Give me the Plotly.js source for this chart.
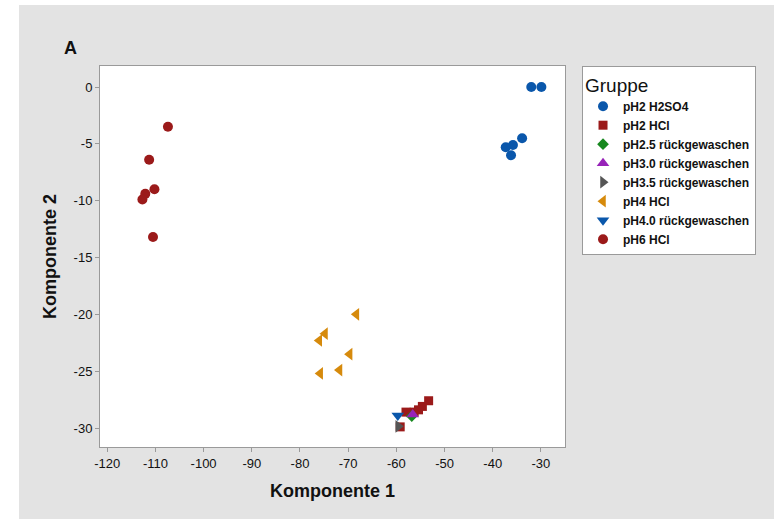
<!DOCTYPE html>
<html>
<head>
<meta charset="utf-8">
<script src="https://cdn.plot.ly/plotly-3.0.1.min.js"></script>
<style>
  html, body { margin: 0; padding: 0; background: #ffffff; }
  #chart { position: absolute; left: 19px; top: 5px; width: 755px; height: 514px; }
</style>
</head>
<body>
<div id="chart"></div>
<script>
// Score plot: first two principal components per sample group
const groupNames = [
  "pH2 H2SO4", "pH2 HCl", "pH2.5 rückgewaschen", "pH3.0 rückgewaschen",
  "pH3.5 rückgewaschen", "pH4 HCl", "pH4.0 rückgewaschen", "pH6 HCl"
];

const h2so4_pH2_x = [-32.0, -29.9, -33.9, -35.8, -37.3, -36.2];
const h2so4_pH2_y = [0.0, 0.0, -4.5, -5.1, -5.3, -6.0];

const hcl_pH2_x = [-53.3, -54.6, -55.4, -56.3, -58.0, -59.2];
const hcl_pH2_y = [-27.6, -28.1, -28.4, -28.6, -28.6, -29.9];

const rw_pH25_x = [-56.8];
const rw_pH25_y = [-28.95];

const rw_pH30_x = [-56.6];
const rw_pH30_y = [-28.8];

const rw_pH35_x = [-59.6];
const rw_pH35_y = [-29.85];

const hcl_pH4_x = [-68.3, -74.8, -76.0, -69.7, -71.8, -75.8];
const hcl_pH4_y = [-20.0, -21.7, -22.3, -23.5, -24.9, -25.2];

const rw_pH40_x = [-59.7];
const rw_pH40_y = [-28.9];

const hcl_pH6_x = [-107.4, -111.3, -110.2, -112.1, -112.7, -110.5];
const hcl_pH6_y = [-3.5, -6.4, -9.0, -9.4, -9.9, -13.2];

const xTicks = [-120, -110, -100, -90, -80, -70, -60, -50, -40, -30];
const yTicks = [0, -5, -10, -15, -20, -25, -30];

const seriesX = [h2so4_pH2_x, hcl_pH2_x, rw_pH25_x, rw_pH30_x, rw_pH35_x, hcl_pH4_x, rw_pH40_x, hcl_pH6_x];
const seriesY = [h2so4_pH2_y, hcl_pH2_y, rw_pH25_y, rw_pH30_y, rw_pH35_y, hcl_pH4_y, rw_pH40_y, hcl_pH6_y];

const symbols = ["circle", "square", "diamond", "triangle-up", "triangle-right", "triangle-left", "triangle-down", "circle"];
const colors = ["#0a57ab", "#9b1a1a", "#17881f", "#9723b8", "#555555", "#d68a0c", "#0a57ab", "#9b1a1a"];
const sizes = [10, 9, 9, 11, 11, 11, 11, 10];

const traces = groupNames.map((name, i) => ({
  type: "scatter",
  mode: "markers",
  name: name,
  x: seriesX[i],
  y: seriesY[i],
  marker: { symbol: symbols[i], color: colors[i], size: sizes[i], line: { width: 0 } }
}));

const baseFont = "Liberation Sans, Arial, sans-serif";

const layout = {
  width: 755,
  height: 514,
  paper_bgcolor: "#e3e3e3",
  plot_bgcolor: "#ffffff",
  margin: { l: 81, r: 209, t: 61, b: 72 },
  font: { family: baseFont, size: 12, color: "#111111" },
  showlegend: true,
  legend: {
    x: 1.0366, y: 1.0, xanchor: "left", yanchor: "top",
    bgcolor: "#ffffff", bordercolor: "#9a9a9a", borderwidth: 1,
    font: { family: baseFont, size: 12, color: "#111111", weight: "bold" },
    title: { text: "Gruppe", font: { family: baseFont, size: 19, color: "#111111", weight: "normal" } },
    tracegroupgap: 0,
    itemwidth: 30
  },
  xaxis: {
    range: [-121.5, -25],
    tickvals: xTicks,
    ticktext: xTicks.map(String),
    showgrid: false, zeroline: false,
    showline: true, linecolor: "#9a9a9a", linewidth: 1, mirror: true,
    ticks: "outside", ticklen: 4, tickcolor: "#9a9a9a",
    tickfont: { family: baseFont, size: 13, color: "#111111" },
    title: { text: "Komponente 1", standoff: 14, font: { family: baseFont, size: 18, color: "#111111", weight: "bold" } }
  },
  yaxis: {
    range: [-31.67, 1.85],
    tickvals: yTicks,
    ticktext: yTicks.map(String),
    showgrid: false, zeroline: false,
    showline: true, linecolor: "#9a9a9a", linewidth: 1, mirror: true,
    ticks: "outside", ticklen: 4, tickcolor: "#9a9a9a",
    tickfont: { family: baseFont, size: 13, color: "#111111" },
    title: { text: "Komponente 2", standoff: 12, font: { family: baseFont, size: 18, color: "#111111", weight: "bold" } }
  },
  annotations: [{
    text: "A", xref: "paper", yref: "paper", x: -0.0645, y: 1.047,
    xanchor: "center", yanchor: "middle", showarrow: false,
    font: { family: baseFont, size: 18, color: "#111111", weight: "bold" }
  }]
};

Plotly.newPlot("chart", traces, layout, { displayModeBar: false, responsive: false });
</script>
</body>
</html>
